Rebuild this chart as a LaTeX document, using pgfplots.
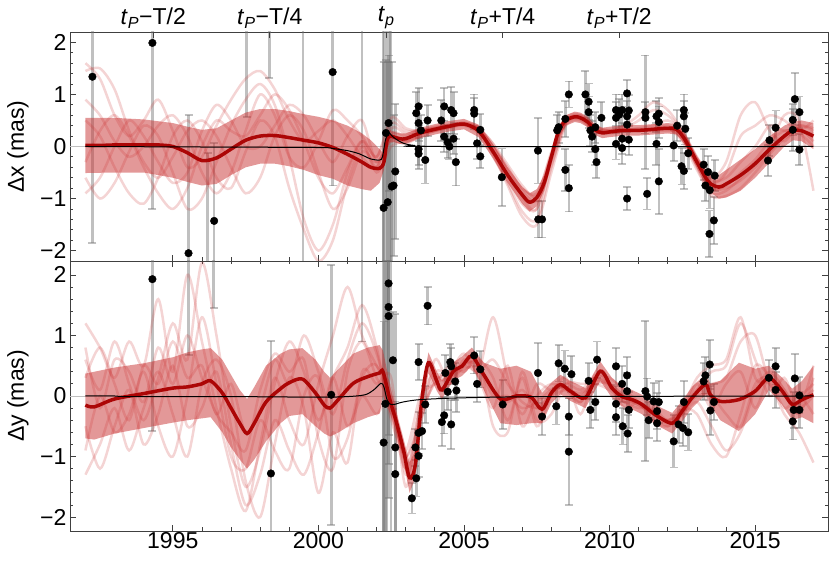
\documentclass[border=0pt]{standalone}
\usepackage{pgfplots}
\pgfplotsset{compat=1.18}
\usepackage{pgfplotstable}
\usepackage{fontspec}
\setmainfont{Liberation Sans}

\definecolor{meanred}{RGB}{170,0,0}
\definecolor{bandred}{RGB}{200,50,50}
\definecolor{samplered}{RGB}{200,40,40}
\newcommand{\bigfont}{\fontsize{23}{23}\selectfont}

\pgfplotsset{
  panel/.style={
    scale only axis, width=758pt,
    xmin=1991.47, xmax=2017.5,
    xtick={1995,2000,2005,2010,2015},
    minor x tick num=4,
    ytick={-2,-1,0,1,2}, yticklabels={−2,−1,0,1,2},
    minor y tick num=4,
    tick align=inside,
    major tick length=6pt, minor tick length=3.5pt,
    axis line style={black!75, line width=0.8pt},
    every tick/.style={black!75, line width=0.8pt},
    tick label style={font=\bigfont},
    xticklabel style={yshift=2pt},
    every axis y label/.style={at={(axis description cs:-0.0686,0.5)}, rotate=90, anchor=center, font=\bigfont},
    extra y ticks={0}, extra y tick labels={},
    extra y tick style={grid=major, major grid style={black!25, line width=0.6pt}, major tick length=0pt},
  },
  sample/.style={samplered, opacity=0.2, line width=2.5pt, smooth, no markers},
  meanline/.style={meanred, opacity=0.95, line width=3.5pt, smooth, no markers},
  band/.style={fill=bandred, fill opacity=0.5, draw=none, no markers},
  model/.style={black, line width=1pt, smooth, no markers},
  obs/.style={only marks, mark=*, mark size=3.8pt, mark options={black, fill=black},
    error bars/.cd, y dir=both, y explicit,
    error bar style={line width=2.6pt, black!55, opacity=0.45},
    error mark options={rotate=90, mark size=4pt, line width=1.8pt, black!55, opacity=0.45}},
}

% observed offsets: x y error
\pgfplotstableread{
x y e
1992.24 1.34 3.2
1994.30 1.99 3.19
1995.54 -2.05 2.66
1996.20 -2.6 2.47
1996.42 -1.43 1.5
1997.54 2.8 2.24
1998.32 3.3 1.98
1999.47 3.5 6.0
2000.49 1.43 2.18
2001.50 -3.0 5.5
2002.22 -3.6 6.5
2002.24 -1.18 2.8
2002.28 3.5 6.5
2002.32 0.26 1.4
2002.35 -3.2 6.2
2002.38 -1.07 2.7
2002.41 0.45 1.3
2002.45 3.1 6.0
2002.48 -3.5 6.5
2002.52 -0.77 2.4
2002.58 -0.75 1.35
2002.64 -0.48 1.3
2003.36 0.64 0.4
2003.44 0.77 0.35
2003.44 0.45 0.35
2003.52 0.31 0.3
2003.44 -0.05 0.3
2003.44 -0.14 0.3
2003.67 -0.26 0.45
2003.75 0.50 0.3
2004.22 0.50 0.4
2004.32 0.77 0.35
2004.32 0.19 0.3
2004.44 0.08 0.3
2004.50 0.00 0.25
2004.56 0.70 0.45
2004.64 0.64 0.4
2004.64 0.15 0.3
2004.72 -0.30 0.45
2005.35 0.70 0.3
2005.35 0.63 0.3
2005.45 0.06 0.3
2005.56 -0.19 0.22
2005.56 0.32 0.3
2006.30 -0.59 0.55
2007.54 -0.08 0.63
2007.55 -1.40 0.35
2007.68 -1.40 0.35
2008.20 0.31 0.3
2008.25 0.37 0.3
2008.48 -0.45 0.4
2008.60 -0.80 0.45
2008.48 0.53 0.35
2008.60 1.00 0.25
2009.17 1.00 0.45
2009.28 0.86 0.35
2009.28 0.66 0.3
2009.34 0.31 0.3
2009.40 0.19 0.3
2009.51 -0.05 0.3
2009.55 -0.30 0.3
2009.51 0.37 0.3
2009.72 0.55 0.3
2010.22 0.70 0.3
2010.22 0.55 0.3
2010.22 0.05 0.3
2010.33 0.61 0.3
2010.43 0.70 0.3
2010.43 0.15 0.3
2010.43 -0.03 0.3
2010.60 1.02 0.25
2010.60 0.58 0.3
2010.60 0.42 0.3
2010.66 0.69 0.3
2010.66 0.13 0.3
2010.60 -1.00 0.22
2011.23 0.66 1.09
2011.23 0.55 0.3
2011.29 -0.91 0.3
2011.61 0.05 0.4
2011.61 0.58 0.3
2011.69 0.63 0.3
2011.69 -0.67 0.62
2011.69 0.47 0.3
2012.20 0.02 0.3
2012.32 0.40 0.3
2012.55 0.70 0.3
2012.55 0.58 0.3
2012.60 0.34 0.3
2012.47 -0.38 0.35
2012.55 -0.47 0.35
2012.70 -0.13 0.3
2013.23 -0.35 0.3
2013.29 -0.75 0.3
2013.38 -0.49 0.3
2013.44 -0.84 0.35
2013.61 -0.56 0.3
2013.43 -1.68 0.45
2013.58 -1.42 0.45
2015.44 -0.27 0.3
2015.49 0.12 0.3
2015.70 0.36 0.33
2016.29 0.32 0.4
2016.36 0.91 0.5
2016.29 0.51 0.3
2016.52 0.66 0.3
2016.52 -0.06 0.3
}\obsx

\pgfplotstableread{
x y e
1994.30 1.93 2.51
1995.54 3.3 2.62
1996.40 3.0 1.55
1998.37 -1.28 2.19
2000.44 0.02 2.15
2001.50 3.5 2.6
2002.22 4.0 7.0
2002.24 -0.77 2.0
2002.28 5.0 8.0
2002.30 -0.13 3.5
2002.36 -4.0 7.0
2002.41 1.86 2.5
2002.41 1.47 2.6
2002.41 1.32 3.0
2002.50 -5.0 8.0
2002.56 0.59 0.8
2002.64 -0.85 2.2
2002.64 -1.29 1.2
2003.21 -1.69 0.25
2003.36 -1.36 0.3
2003.44 -0.99 0.35
2003.44 -0.61 0.35
2003.56 -0.58 0.3
2003.33 -0.85 0.3
2003.67 -0.14 0.3
2003.44 0.56 0.3
2003.75 1.49 0.31
2004.24 -0.43 0.4
2004.32 -0.32 0.3
2004.56 -0.47 0.4
2004.36 0.38 0.3
2004.44 0.07 0.3
2004.53 0.56 0.3
2004.56 0.49 0.3
2004.74 0.09 0.35
2004.70 0.24 0.3
2005.35 0.67 0.3
2005.56 0.44 0.3
2005.45 0.20 0.3
2006.33 -0.14 0.4
2007.54 0.38 0.5
2007.68 -0.34 0.3
2008.25 0.54 0.3
2008.46 0.45 0.3
2008.69 0.36 0.3
2008.17 -0.17 0.3
2008.60 -0.34 0.3
2008.60 -0.92 0.88
2009.28 0.25 0.3
2009.34 -0.23 0.3
2009.57 0.60 0.3
2009.51 -0.10 0.3
2010.22 0.49 0.3
2010.22 -0.13 0.3
2010.22 -0.35 0.3
2010.43 0.20 0.3
2010.45 -0.50 0.3
2010.60 0.34 0.3
2010.60 0.08 0.3
2010.62 -0.62 0.3
2010.66 -0.23 0.3
2011.23 0.08 1.16
2011.29 -0.01 0.3
2011.34 -0.40 0.3
2011.51 -0.09 0.3
2011.63 -0.25 0.3
2011.69 -0.10 0.35
2011.63 -0.45 0.3
2012.20 -0.75 0.43
2012.37 -0.47 0.3
2012.55 -0.10 0.35
2012.52 -0.53 0.3
2012.70 -0.60 0.3
2013.23 0.24 0.3
2013.29 0.34 0.3
2013.44 0.52 0.4
2013.46 -0.24 0.4
2013.58 -0.10 0.3
2015.47 0.30 0.3
2015.70 0.49 0.3
2015.70 0.10 0.3
2016.36 0.29 0.4
2016.29 -0.42 0.3
2016.32 -0.23 0.3
2016.52 -0.23 0.3
2016.52 0.01 0.3
}\obsy

% posterior draws, x offset
\pgfplotstableread{
x s1 s2 s3 s4 s5 s6 s7
1992 1.6 1.45 -0.6 -0.3 0.5 -0.9 0.9
1992.5 1.3 1.5 -1.0 0.3 0.2 -0.6 0.6
1993 0.6 1.1 -0.7 0.6 -0.4 0.0 0.1
1993.5 0.2 0.3 -0.1 0.2 -0.9 0.5 -0.2
1994 0.5 -0.3 0.4 -0.4 -1.1 0.2 0.0
1994.5 0.9 -0.6 0.2 -0.9 -0.6 -0.3 0.4
1995 0.3 -0.2 -0.5 -1.2 0.2 -0.7 0.6
1995.5 -0.4 0.3 -1.2 -0.8 0.5 -0.5 0.2
1996 -0.2 0.5 -1.0 0.0 0.1 0.3 -0.5
1996.5 0.4 0.2 -0.3 0.5 -0.6 0.8 -0.9
1997 0.9 -0.4 0.4 0.3 -0.8 0.5 -0.5
1997.5 1.3 -0.9 0.9 0.2 -0.1 0.0 0.3
1998 1.45 -0.6 1.2 0.6 0.5 0.0 1.0
1998.5 1.1 0.2 0.8 1.0 0.2 0.4 0.6
1999 0.5 0.6 -0.2 0.7 -0.8 0.8 -0.2
1999.5 0.1 0.3 -1.4 0.1 -1.6 0.6 -0.4
2000 0.3 -0.5 -2.0 -0.6 -2.2 0.1 0.1
2000.5 0.5 -1.2 -1.5 -0.9 -1.8 -0.3 0.7
2001 0.2 -0.8 -0.5 -0.4 -0.7 0.2 0.5
2001.5 -0.2 -0.1 0.1 0.1 0.0 0.5 0.2
2002 -0.4 -0.3 -0.2 -0.5 -0.4 -0.3 -0.2
2002.5 0.35 0.1 0.45 0.0 0.25 0.15 0.55
2003 0.25 0.05 0.3 0.1 0.2 0.1 0.35
2003.5 0.3 0.2 0.32 0.25 0.3 0.22 0.3
2004 0.38 0.3 0.35 0.3 0.36 0.3 0.35
2004.5 0.42 0.36 0.4 0.37 0.41 0.38 0.4
2005 0.45 0.4 0.46 0.42 0.44 0.43 0.45
2005.5 0.38 0.25 0.35 0.3 0.33 0.28 0.35
2006 0.0 -0.2 0.05 -0.15 0.0 -0.1 0.05
2006.5 -0.4 -0.7 -0.45 -0.75 -0.5 -0.6 -0.35
2007 -0.85 -1.25 -0.8 -1.35 -1.0 -1.1 -0.75
2007.5 -1.05 -1.4 -0.9 -1.5 -1.2 -1.2 -0.95
2008 -0.35 -0.4 -0.15 -0.5 -0.3 -0.25 -0.1
2008.5 0.45 0.45 0.5 0.4 0.5 0.48 0.55
2009 0.58 0.52 0.6 0.5 0.55 0.55 0.6
2009.5 0.35 0.3 0.4 0.28 0.32 0.33 0.35
2010 0.3 0.25 0.3 0.28 0.3 0.27 0.32
2010.5 0.33 0.3 0.35 0.3 0.4 0.32 0.3
2011 0.3 0.32 0.5 0.3 0.6 0.35 0.3
2011.5 0.35 0.3 0.7 0.33 0.85 0.4 0.33
2012 0.35 0.3 0.6 0.4 0.7 0.5 0.35
2012.5 0.15 0.25 0.3 0.15 0.3 0.3 0.1
2013 -0.35 -0.25 -0.2 -0.4 -0.3 -0.25 -0.45
2013.5 -0.8 -0.6 -0.65 -0.95 -0.8 -0.7 -0.9
2014 -0.75 -0.3 -0.6 -0.95 -0.8 -0.5 -0.85
2014.5 -0.5 0.6 -0.3 -0.8 -0.65 0.2 -0.6
2015 -0.25 0.85 0.0 -0.5 -0.4 0.4 -0.3
2015.5 0.1 0.3 0.4 -0.15 -0.1 0.6 0.0
2016 0.3 0.1 0.3 0.15 0.2 0.5 0.6
2016.5 0.3 0.4 0.35 0.25 0.4 0.3 0.5
2017 0.25 0.3 0.1 0.0 0.35 0.5 -0.85
}\drawsx

% posterior draws, y offset
\pgfplotstableread{
x s1 s2 s3 s4 s5 s6 s7
1992 1.2 0.6 -1.3 0.3 -0.5 0.8 -0.9
1992.5 0.8 0.1 -0.8 0.8 -1.2 -0.2 0.0
1993 0.3 0.9 -0.2 0.2 -0.5 0.6 -0.6
1993.5 0.9 0.2 -0.9 -0.4 0.1 0.4 -0.3
1994 0.5 -0.4 -0.2 0.5 -0.8 -0.1 0.4
1994.5 1.6 0.3 0.4 0.2 -0.3 0.8 -0.5
1995 0.4 1.2 -0.3 0.9 0.5 0.2 -1.0
1995.5 2.0 0.6 -1.0 0.3 -0.5 1.0 0.0
1996 0.9 2.2 0.2 0.5 -0.2 0.3 1.3
1996.5 -0.2 1.0 0.6 -0.3 0.4 -0.3 0.2
1997 -1.2 -0.5 0.0 0.2 -0.8 -0.6 -1.0
1997.5 -1.9 -1.5 -1.4 -0.6 -1.8 -0.9 -1.2
1998 -0.8 -0.9 -2.0 -0.2 -1.3 0.1 -0.4
1998.5 0.3 0.2 -0.8 0.6 -0.4 0.7 -0.9
1999 -0.4 0.9 0.3 0.2 -0.9 0.4 -1.2
1999.5 -0.8 0.4 -0.2 1.0 -1.3 0.6 0.0
2000 0.2 -0.4 -1.6 0.4 -0.6 -0.7 0.3
2000.5 1.0 0.3 -0.6 -0.3 0.3 -1.2 -1.0
2001 1.8 0.8 -1.1 0.6 -0.5 0.4 -0.7
2001.5 1.0 1.5 0.4 1.2 0.0 0.9 0.3
2002 0.5 0.8 0.2 0.7 -0.3 0.3 0.5
2002.5 0.1 -0.4 0.3 -0.2 0.0 -0.1 -0.3
2003 -1.3 -0.9 -1.5 -1.0 -1.2 -1.0 -1.2
2003.5 -0.5 0.0 -0.1 -0.4 -0.3 -0.2 -0.4
2004 0.6 0.2 0.4 0.3 0.2 0.35 0.25
2004.5 0.2 0.5 0.4 0.2 0.3 0.3 0.35
2005 0.6 0.4 0.7 0.5 0.45 0.55 0.5
2005.5 0.4 0.6 0.3 0.6 0.45 0.5 0.4
2006 1.3 -0.5 -0.2 0.3 0.0 0.1 0.6
2006.5 0.3 -0.6 0.5 -0.4 0.0 -0.1 0.2
2007 -0.3 0.4 -0.5 0.3 -0.2 0.1 -0.1
2007.5 0.2 -0.4 0.0 -0.5 -0.1 -0.2 -0.2
2008 0.1 -0.3 0.2 0.0 0.1 0.05 0.0
2008.5 0.3 0.2 0.1 0.2 0.15 0.15 0.1
2009 -0.3 0.2 -0.1 0.1 -0.1 0.0 0.05
2009.5 0.35 0.2 0.3 0.3 0.25 0.25 0.2
2010 0.2 0.1 0.3 0.2 0.2 0.15 0.2
2010.5 -0.2 -0.1 0.1 -0.1 0.0 -0.05 0.0
2011 -0.1 -0.2 -0.1 -0.1 -0.15 -0.15 -0.1
2011.5 -0.3 -0.2 -0.4 -0.3 -0.25 -0.3 -0.25
2012 -0.5 -0.4 -0.5 -0.4 -0.45 -0.4 -0.45
2012.5 -0.3 -0.2 -0.2 -0.3 -0.2 -0.25 -0.3
2013 0.1 -0.3 0.3 -0.1 0.1 0.0 0.2
2013.5 0.4 -0.8 0.5 -0.5 0.2 0.0 -0.2
2014 0.5 -1.0 0.6 -0.9 0.3 -0.3 0.2
2014.5 1.2 -0.3 1.3 -0.6 0.9 -0.5 0.4
2015 0.6 0.5 0.3 0.1 1.0 0.2 -0.2
2015.5 0.0 0.3 0.2 0.4 0.2 0.3 0.35
2016 0.3 -0.2 -0.3 0.1 0.0 0.0 0.1
2016.5 -0.2 0.0 -0.6 -0.3 0.0 -0.1 -0.2
2017 0.5 -0.3 -1.1 0.3 0.2 0.1 0.0
}\drawsy

\begin{document}
\begin{tikzpicture}
\useasboundingbox (-70pt,-30pt) rectangle (760pt,531pt);

% ---------- top panel: Delta x ----------
\begin{axis}[panel, at={(0,270pt)}, height=229pt,
  ymin=-2.2, ymax=2.2,
  xtick pos=bottom, xticklabels={},
  ylabel={Δx (mas)}]
\addplot[obs] table[x=x, y=y, y error=e] {\obsx};
\addplot[band] coordinates {
 (1992,0.55) (1993,0.55) (1994,0.52) (1995,0.45) (1995.5,0.38) (1996,0.32) (1996.5,0.35)
 (1997,0.5) (1997.5,0.65) (1998,0.72) (1998.5,0.72) (1999,0.68) (1999.5,0.62) (2000,0.57)
 (2000.5,0.5) (2001,0.4) (2001.5,0.25) (2001.8,0.12) (2002.1,-0.05) (2002.25,-0.15)
 (2002.35,0.25) (2002.45,0.32) (2002.6,0.28) (2002.8,0.25) (2003,0.25) (2003.5,0.36)
 (2004,0.43) (2004.5,0.49) (2005,0.53) (2005.5,0.42) (2006,0.03) (2006.5,-0.4) (2007,-0.78)
 (2007.25,-0.9) (2007.5,-0.82) (2007.75,-0.55) (2008,-0.08) (2008.25,0.4) (2008.5,0.6)
 (2008.8,0.67) (2009,0.65) (2009.25,0.57) (2009.5,0.42) (2009.75,0.36) (2010,0.38)
 (2010.5,0.41) (2011,0.41) (2011.5,0.43) (2012,0.45) (2012.3,0.43) (2012.6,0.23)
 (2013,-0.18) (2013.4,-0.52) (2013.75,-0.55) (2014,-0.45) (2014.5,-0.25) (2015,-0.05)
 (2015.5,0.2) (2016,0.4) (2016.3,0.48) (2016.6,0.5) (2017,0.45)
 (2017,-0.05) (2016.6,0.1) (2016.3,0.12) (2016,0.0) (2015.5,-0.3) (2015,-0.6) (2014.5,-0.85)
 (2014,-0.98) (2013.75,-1.0) (2013.4,-0.85) (2013,-0.42) (2012.6,0.02) (2012.3,0.23)
 (2012,0.25) (2011.5,0.23) (2011,0.21) (2010.5,0.21) (2010,0.18) (2009.75,0.16) (2009.5,0.22)
 (2009.25,0.37) (2009,0.45) (2008.8,0.47) (2008.5,0.4) (2008.25,0.18) (2008,-0.32)
 (2007.75,-0.85) (2007.5,-1.15) (2007.25,-1.25) (2007,-1.1) (2006.5,-0.7) (2006,-0.23)
 (2005.5,0.18) (2005,0.33) (2004.5,0.29) (2004,0.23) (2003.5,0.16) (2003,0.05) (2002.8,0.05)
 (2002.6,0.08) (2002.45,0.08) (2002.35,-0.05) (2002.25,-0.45) (2002.1,-0.7) (2001.8,-0.85)
 (2001.5,-0.82) (2001,-0.75) (2000.5,-0.62) (2000,-0.55) (1999.5,-0.45) (1999,-0.38)
 (1998.5,-0.33) (1998,-0.33) (1997.5,-0.4) (1997,-0.55) (1996.5,-0.72) (1996,-0.75)
 (1995.5,-0.68) (1995,-0.6) (1994,-0.5) (1993,-0.5) (1992,-0.51)
} -- cycle;
\foreach \s in {s1,s2,s3,s4,s5,s6,s7} {
  \addplot[sample] table[x=x, y=\s] {\drawsx};
}
\addplot[meanline] coordinates {
 (1992,0.02) (1992.5,0.02) (1993,0.03) (1993.5,0.03) (1994,0.03) (1994.5,0.03) (1995,0.0)
 (1995.5,-0.12) (1996,-0.27) (1996.5,-0.22) (1997,-0.05) (1997.5,0.12) (1998,0.2)
 (1998.5,0.21) (1999,0.17) (1999.5,0.12) (2000,0.07) (2000.5,-0.02) (2001,-0.15)
 (2001.5,-0.3) (2001.8,-0.40) (2002.1,-0.42) (2002.25,-0.3) (2002.35,0.1) (2002.45,0.2)
 (2002.6,0.18) (2002.8,0.15) (2003,0.15) (2003.5,0.26) (2004,0.33) (2004.5,0.39) (2005,0.43)
 (2005.5,0.3) (2006,-0.1) (2006.5,-0.55) (2007,-0.93) (2007.25,-1.07) (2007.5,-0.98)
 (2007.75,-0.7) (2008,-0.2) (2008.25,0.3) (2008.5,0.5) (2008.8,0.57) (2009,0.55)
 (2009.25,0.47) (2009.5,0.32) (2009.75,0.26) (2010,0.28) (2010.5,0.31) (2011,0.31)
 (2011.5,0.33) (2012,0.35) (2012.3,0.33) (2012.6,0.12) (2013,-0.3) (2013.4,-0.68)
 (2013.75,-0.78) (2014,-0.72) (2014.5,-0.55) (2015,-0.33) (2015.5,-0.05) (2016,0.2)
 (2016.3,0.31) (2016.6,0.3) (2017,0.2)
};
\addplot[model] coordinates {
 (1992,0) (1996,-0.01) (2000,-0.02) (2000.5,-0.04) (2001,-0.08) (2001.4,-0.14)
 (2001.8,-0.24) (2002.1,-0.26) (2002.2,-0.2) (2002.3,0.12) (2002.41,0.26) (2002.5,0.22)
 (2002.64,0.15) (2002.93,0.06) (2003.3,0.02) (2004,0.0) (2017,0.0)
};
\end{axis}

% top tick marks at periastron phases
\begin{axis}[scale only axis, width=758pt, height=229pt, at={(0,270pt)},
  xmin=1991.47, xmax=2017.5, ymin=-2.2, ymax=2.2,
  hide y axis, axis x line*=top, axis line style={draw=none},
  xtick={1994.33,1998.33,2002.33,2006.33,2010.33},
  xticklabels={{\textit{t}\textsubscript{\textit{P}}−T/2},
               {\textit{t}\textsubscript{\textit{P}}−T/4},
               {\textit{t}\textsubscript{\textit{p}}},
               {\textit{t}\textsubscript{\textit{P}}+T/4},
               {\textit{t}\textsubscript{\textit{P}}+T/2}},
  xtick align=inside, major tick length=6pt,
  every tick/.style={black!75, line width=0.8pt},
  tick label style={font=\bigfont}]
\end{axis}

% ---------- bottom panel: Delta y ----------
\begin{axis}[panel, at={(0,0)}, height=270pt,
  ymin=-2.23, ymax=2.23,
  xticklabels={1995,2000,2005,2010,2015},
  ylabel={Δy (mas)}]
\addplot[obs] table[x=x, y=y, y error=e] {\obsy};
\addplot[band] coordinates {
 (1992,0.37) (1992.3,0.4) (1993,0.47) (1994,0.54) (1995,0.64) (1995.5,0.72) (1996,0.77)
 (1996.3,0.79) (1996.7,0.6) (1997,0.35) (1997.3,0.1) (1997.55,-0.05) (1997.8,0.15)
 (1998.2,0.5) (1998.7,0.7) (1999,0.77) (1999.45,0.79) (1999.9,0.6) (2000.2,0.4) (2000.4,0.3)
 (2000.7,0.45) (2001.2,0.7) (2001.7,0.8) (2002.1,0.84) (2002.22,0.75) (2002.47,0.15)
 (2002.7,-0.3) (2002.93,-0.72) (2003.13,-1.1) (2003.33,-0.9) (2003.56,0.15) (2003.78,0.72)
 (2004.07,0.4) (2004.24,0.25) (2004.64,0.56) (2004.93,0.65) (2005.27,0.8) (2005.68,0.55)
 (2006.25,0.45) (2006.8,0.5) (2007.3,0.4) (2007.68,0.05) (2008,0.22) (2008.31,0.35)
 (2008.65,0.25) (2009.17,0.13) (2009.68,0.57) (2010.08,0.3) (2010.43,0.15) (2010.77,0.1)
 (2011.11,0.02) (2011.57,-0.15) (2012.15,-0.28) (2012.49,-0.08) (2012.83,0.15)
 (2013.29,0.36) (2013.46,0.2) (2013.8,0.25) (2014.44,0.55) (2015,0.45) (2015.47,0.5)
 (2015.93,0.3) (2016.27,0.12) (2016.61,0.25) (2017,0.5)
 (2017,-0.45) (2016.61,-0.35) (2016.27,-0.4) (2015.93,-0.15) (2015.47,0.1) (2015,-0.3)
 (2014.44,-0.58) (2013.8,-0.4) (2013.46,-0.15) (2013.29,0.02) (2012.83,-0.2) (2012.49,-0.42)
 (2012.15,-0.62) (2011.57,-0.47) (2011.11,-0.3) (2010.77,-0.22) (2010.43,-0.17)
 (2010.08,-0.03) (2009.68,0.25) (2009.17,-0.2) (2008.65,-0.08) (2008.31,0.03) (2008,-0.12)
 (2007.68,-0.45) (2007.3,-0.45) (2006.8,-0.48) (2006.25,-0.45) (2005.68,0.1) (2005.27,0.5)
 (2004.93,0.33) (2004.64,0.26) (2004.24,-0.05) (2004.07,0.08) (2003.78,0.38) (2003.56,-0.2)
 (2003.33,-1.35) (2003.13,-1.6) (2002.93,-1.1) (2002.7,-0.65) (2002.47,-0.3) (2002.22,0.0)
 (2002.1,-0.29) (2001.7,-0.35) (2001.2,-0.45) (2000.7,-0.6) (2000.4,-0.67) (2000.2,-0.62)
 (1999.9,-0.5) (1999.45,-0.3) (1999,-0.33) (1998.7,-0.45) (1998.2,-0.75) (1997.8,-1.05)
 (1997.55,-1.2) (1997.3,-1.05) (1997,-0.85) (1996.7,-0.6) (1996.3,-0.35) (1996,-0.37)
 (1995.5,-0.4) (1995,-0.44) (1994,-0.53) (1993,-0.62) (1992.3,-0.72) (1992,-0.7)
} -- cycle;
\foreach \s in {s1,s2,s3,s4,s5,s6,s7} {
  \addplot[sample] table[x=x, y=\s] {\drawsy};
}
\addplot[meanline] coordinates {
 (1992,-0.15) (1992.3,-0.18) (1993,-0.05) (1994,0.04) (1995,0.13) (1995.5,0.15) (1996,0.2)
 (1996.3,0.25) (1996.7,0.05) (1997,-0.2) (1997.3,-0.45) (1997.55,-0.62) (1997.8,-0.45)
 (1998.2,-0.1) (1998.7,0.12) (1999,0.22) (1999.45,0.28) (1999.9,0.05) (2000.2,-0.15)
 (2000.4,-0.2) (2000.7,-0.05) (2001.2,0.21) (2001.7,0.32) (2002.1,0.38) (2002.22,0.4)
 (2002.47,-0.09) (2002.7,-0.47) (2002.93,-0.91) (2003.13,-1.35) (2003.33,-1.13)
 (2003.56,-0.03) (2003.78,0.55) (2004.07,0.24) (2004.24,0.1) (2004.64,0.41) (2004.93,0.49)
 (2005.27,0.66) (2005.68,0.35) (2006.25,-0.05) (2006.8,0.0) (2007.3,-0.02) (2007.68,-0.22)
 (2008,0.05) (2008.31,0.19) (2008.65,0.08) (2009.17,-0.03) (2009.68,0.41) (2010.08,0.13)
 (2010.43,-0.01) (2010.77,-0.06) (2011.11,-0.14) (2011.57,-0.31) (2012.15,-0.45)
 (2012.49,-0.25) (2012.83,-0.03) (2013.29,0.19) (2013.46,0.02) (2013.8,-0.09)
 (2014.44,-0.06) (2015,0.08) (2015.47,0.3) (2015.93,0.08) (2016.27,-0.14) (2016.61,-0.06)
 (2017,0.02)
};
\addplot[model] coordinates {
 (1992,0) (1993,0) (1993.5,-0.01) (1997,-0.01) (2000,-0.02) (2001,-0.01) (2001.6,0.02)
 (2001.9,0.1) (2002.15,0.21) (2002.25,0.15) (2002.35,-0.05) (2002.45,-0.13) (2002.6,-0.14)
 (2002.9,-0.1) (2003.5,-0.06) (2005,-0.03) (2008,-0.01) (2017,0.0)
};
\end{axis}
\end{tikzpicture}
\end{document}
